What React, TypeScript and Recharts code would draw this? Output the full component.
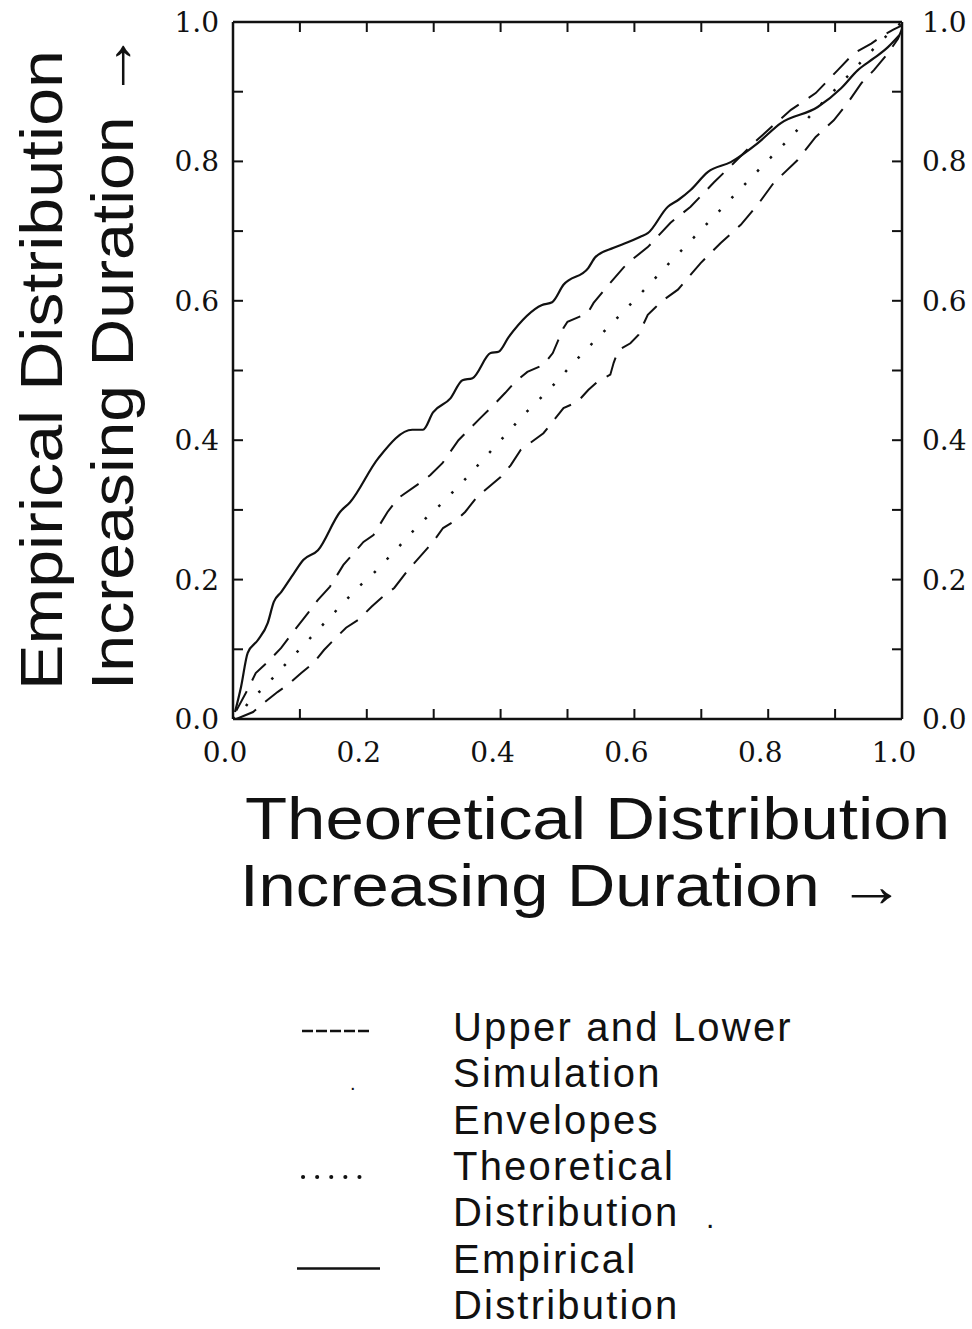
import React from "react";
import { LineChart, Line, XAxis, YAxis } from "recharts";

const axisTicks = [0, 0.1, 0.2, 0.3, 0.4, 0.5, 0.6, 0.7, 0.8, 0.9, 1.0];
const labelledTicks = [0, 0.2, 0.4, 0.6, 0.8, 1.0];

// [theoretical, empirical] pairs
const empiricalPts: [number, number][] = [
  [0.003, 0.01], [0.012, 0.046], [0.022, 0.095], [0.037, 0.113], [0.052, 0.138],
  [0.061, 0.168], [0.072, 0.182], [0.091, 0.209], [0.105, 0.228], [0.127, 0.242],
  [0.16, 0.297], [0.175, 0.311], [0.217, 0.374], [0.268, 0.415], [0.284, 0.415],
  [0.299, 0.44], [0.325, 0.46], [0.343, 0.486], [0.358, 0.489], [0.385, 0.525],
  [0.397, 0.527], [0.412, 0.548], [0.462, 0.594], [0.477, 0.598], [0.494, 0.623],
  [0.531, 0.647], [0.542, 0.663], [0.569, 0.676], [0.59, 0.684], [0.609, 0.692],
  [0.62, 0.697], [0.65, 0.735], [0.666, 0.745], [0.684, 0.759], [0.71, 0.785],
  [0.744, 0.799], [0.784, 0.826], [0.819, 0.855], [0.874, 0.878], [0.909, 0.905],
  [0.934, 0.931], [0.958, 0.948], [0.979, 0.964], [0.996, 0.981],
];

const upperPts: [number, number][] = [
  [0.005, 0.012], [0.024, 0.046], [0.034, 0.066], [0.052, 0.082], [0.072, 0.102],
  [0.09, 0.125], [0.112, 0.152], [0.127, 0.171], [0.145, 0.19], [0.165, 0.221],
  [0.195, 0.254], [0.21, 0.264], [0.231, 0.297], [0.247, 0.317], [0.28, 0.339],
  [0.295, 0.35], [0.313, 0.367], [0.337, 0.4], [0.37, 0.432], [0.389, 0.45],
  [0.407, 0.468], [0.422, 0.484], [0.44, 0.498], [0.464, 0.508], [0.478, 0.525],
  [0.494, 0.561], [0.5, 0.57], [0.53, 0.582], [0.539, 0.597], [0.557, 0.618],
  [0.584, 0.648], [0.599, 0.661], [0.62, 0.677], [0.654, 0.712], [0.684, 0.735],
  [0.719, 0.77], [0.749, 0.798], [0.778, 0.826], [0.808, 0.852], [0.834, 0.874],
  [0.871, 0.898], [0.904, 0.931], [0.928, 0.955], [0.954, 0.969], [0.972, 0.981],
  [0.987, 0.989], [1.0, 0.995],
];

const lowerPts: [number, number][] = [
  [0.005, 0.0], [0.03, 0.01], [0.046, 0.023], [0.067, 0.039], [0.082, 0.049],
  [0.102, 0.066], [0.12, 0.08], [0.136, 0.099], [0.147, 0.11], [0.169, 0.131],
  [0.187, 0.142], [0.207, 0.161], [0.222, 0.174], [0.241, 0.188], [0.262, 0.214],
  [0.299, 0.254], [0.314, 0.274], [0.335, 0.286], [0.347, 0.297], [0.365, 0.319],
  [0.4, 0.347], [0.415, 0.364], [0.43, 0.386], [0.464, 0.41], [0.494, 0.446],
  [0.515, 0.455], [0.531, 0.472], [0.545, 0.484], [0.564, 0.494], [0.569, 0.511],
  [0.576, 0.529], [0.594, 0.539], [0.606, 0.551], [0.62, 0.58], [0.632, 0.591],
  [0.639, 0.598], [0.665, 0.616], [0.699, 0.654], [0.729, 0.683], [0.759, 0.709],
  [0.786, 0.74], [0.808, 0.769], [0.844, 0.802], [0.871, 0.835], [0.898, 0.859],
  [0.919, 0.884], [0.939, 0.912], [0.958, 0.931], [0.979, 0.955], [0.994, 0.976],
  [1.0, 0.99],
];

const theoreticalPts: [number, number][] = [
  [0.0, 0.0], [0.013, 0.01], [0.028, 0.03], [0.048, 0.046], [0.066, 0.066],
  [0.082, 0.082], [0.187, 0.189], [0.208, 0.207], [0.243, 0.242], [0.277, 0.278],
  [0.314, 0.311], [0.35, 0.347], [0.403, 0.403], [0.437, 0.439], [0.475, 0.475],
  [0.509, 0.511], [0.545, 0.547], [0.564, 0.565], [0.617, 0.618], [0.654, 0.656],
  [0.796, 0.798], [0.834, 0.835], [0.868, 0.871], [0.904, 0.907], [0.939, 0.943],
  [0.971, 0.975], [1.0, 1.0],
];

const legendItems = [
  { lines: ["Upper and Lower", "Simulation", "Envelopes"], dash: "11 3", width: 2.5, cap: "butt", dy: -10, x1: 302, x2: 370 },
  { lines: ["Theoretical", "Distribution"], dash: "0.1 14", width: 4, cap: "round", dy: -3, x1: 303, x2: 362 },
  { lines: ["Empirical", "Distribution"], dash: undefined, width: 2.5, cap: "butt", dy: -4, x1: 297, x2: 380 },
];

const toData = (pts: [number, number][]) => pts.map(([x, y]) => ({ x, y }));

const INK = "#111";
const TICK = 10;
const numFont = { fontFamily: '"DejaVu Serif", "Liberation Serif", serif', fontSize: 28, fill: INK };
const titleFont = '"Liberation Sans", Arial, sans-serif';

const isLabelled = (v: number) => labelledTicks.some((t) => Math.abs(t - v) < 1e-6);

function BottomTick(props: any) {
  const { x, y, payload } = props;
  const v = payload.value;
  return (
    <g>
      <line x1={x} x2={x} y1={y} y2={y - TICK} stroke={INK} strokeWidth={2} />
      {isLabelled(v) && (
        <text x={x - 8} y={y + 43} textAnchor="middle" {...numFont}>
          {v.toFixed(1)}
        </text>
      )}
    </g>
  );
}

function TopTick(props: any) {
  const { x, y } = props;
  return <line x1={x} x2={x} y1={y} y2={y + TICK} stroke={INK} strokeWidth={2} />;
}

function LeftTick(props: any) {
  const { x, y, payload } = props;
  const v = payload.value;
  return (
    <g>
      <line x1={x} x2={x + TICK} y1={y} y2={y} stroke={INK} strokeWidth={2} />
      {isLabelled(v) && (
        <text x={x - 14} y={y + 10} textAnchor="end" {...numFont}>
          {v.toFixed(1)}
        </text>
      )}
    </g>
  );
}

function RightTick(props: any) {
  const { x, y, payload } = props;
  const v = payload.value;
  return (
    <g>
      <line x1={x} x2={x - TICK} y1={y} y2={y} stroke={INK} strokeWidth={2} />
      {isLabelled(v) && (
        <text x={x + 20} y={y + 10} textAnchor="start" {...numFont}>
          {v.toFixed(1)}
        </text>
      )}
    </g>
  );
}

function Overlay() {
  let row = 0;
  return (
    <svg width={972} height={1329} style={{ position: "absolute", left: 0, top: 0, pointerEvents: "none" }}>
      <g fontFamily={titleFont} fill={INK} fontSize={60}>
        <text x={245} y={839} textLength={705} lengthAdjust="spacingAndGlyphs">Theoretical Distribution</text>
        <text x={240} y={906} textLength={665} lengthAdjust="spacingAndGlyphs">Increasing Duration →</text>
        <text transform="translate(62,690) rotate(-90)" textLength={640} lengthAdjust="spacingAndGlyphs">Empirical Distribution</text>
        <text transform="translate(133,690) rotate(-90)" textLength={658} lengthAdjust="spacingAndGlyphs">Increasing Duration →</text>
      </g>
      <g fontFamily={titleFont} fill={INK} fontSize={40} letterSpacing={2.2}>
        {legendItems.map((item) => {
          const base = 1041 + row * 46.3;
          const el = (
            <g key={item.lines[0]}>
              <line x1={item.x1} x2={item.x2} y1={base + item.dy} y2={base + item.dy} stroke={INK}
                strokeWidth={item.width} strokeDasharray={item.dash} strokeLinecap={item.cap as any} />
              {item.lines.map((t, i) => (
                <text key={i} x={453} y={base + i * 46.3}>{t}</text>
              ))}
            </g>
          );
          row += item.lines.length;
          return el;
        })}
        <text x={350} y={1090} fontSize={20}>.</text>
        <text x={706} y={1228} fontSize={30}>.</text>
      </g>
    </svg>
  );
}

export default function App() {
  return (
    <div style={{ position: "absolute", left: 0, top: 0, width: 972, height: 1329, background: "#fff" }}>
      <LineChart width={972} height={1329} margin={{ top: 20, right: 0, bottom: 560, left: 173 }}>
        <XAxis xAxisId="b" dataKey="x" type="number" domain={[0, 1]} ticks={axisTicks} interval={0}
          allowDataOverflow height={50} tickSize={0} tickMargin={0} tickLine={false}
          axisLine={{ stroke: INK, strokeWidth: 2.5 }} tick={(p: any) => <BottomTick {...p} />} />
        <XAxis xAxisId="t" orientation="top" dataKey="x" type="number" domain={[0, 1]} ticks={axisTicks}
          interval={0} allowDataOverflow height={2} tickSize={0} tickMargin={0} tickLine={false}
          axisLine={{ stroke: INK, strokeWidth: 2.5 }} tick={(p: any) => <TopTick {...p} />} />
        <YAxis yAxisId="l" type="number" domain={[0, 1]} ticks={axisTicks} interval={0} allowDataOverflow
          width={60} tickSize={0} tickMargin={0} tickLine={false}
          axisLine={{ stroke: INK, strokeWidth: 2.5 }} tick={(p: any) => <LeftTick {...p} />} />
        <YAxis yAxisId="r" orientation="right" type="number" domain={[0, 1]} ticks={axisTicks} interval={0}
          allowDataOverflow width={70} tickSize={0} tickMargin={0} tickLine={false}
          axisLine={{ stroke: INK, strokeWidth: 2.5 }} tick={(p: any) => <RightTick {...p} />} />
        <Line xAxisId="b" yAxisId="l" data={toData(upperPts)} dataKey="y" type="linear" stroke={INK}
          strokeWidth={2} strokeDasharray="22 12" dot={false} isAnimationActive={false} />
        <Line xAxisId="b" yAxisId="l" data={toData(lowerPts)} dataKey="y" type="linear" stroke={INK}
          strokeWidth={2} strokeDasharray="22 12" dot={false} isAnimationActive={false} />
        <Line xAxisId="b" yAxisId="l" data={toData(theoreticalPts)} dataKey="y" type="linear" stroke={INK}
          strokeWidth={2.5} strokeDasharray="2.5 16" dot={false} isAnimationActive={false} />
        <Line xAxisId="b" yAxisId="l" data={toData(empiricalPts)} dataKey="y" type="monotone" stroke={INK}
          strokeWidth={2.2} dot={false} isAnimationActive={false} />
      </LineChart>
      <Overlay />
    </div>
  );
}
